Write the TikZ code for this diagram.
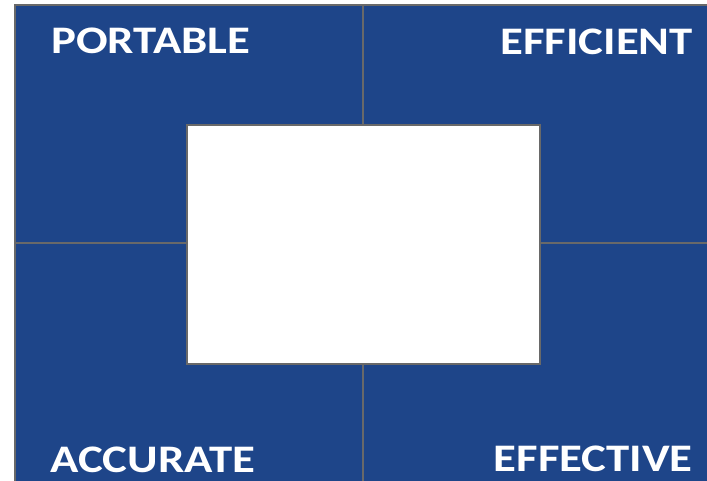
\documentclass[tikz,border=0pt]{standalone}
\usepackage{fontspec}
\setmainfont{Carlito}
\definecolor{qblue}{RGB}{30,69,137}
\definecolor{qgrey}{RGB}{105,105,105}
\usetikzlibrary{positioning}
\newcommand{\widelabel}[1]{\scalebox{1.2}[1]{#1}}
\tikzset{
  quadlabel/.style={text=white,font=\bfseries\fontsize{39}{39}\selectfont,inner sep=0pt},
  divider/.style={qgrey,line width=2pt}
}

\begin{document}
\begin{tikzpicture}[x=1pt,y=-1pt]
  \useasboundingbox (0,0) rectangle (707,481);
  % blue field and its frame
  \fill[qblue] (15,5) rectangle (707,481);
  \draw[divider] (15,490) -- (15,5) -- (720,5);
  % centre box
  \node[draw=qgrey,line width=2pt,fill=white,minimum width=353pt,minimum height=239pt,inner sep=0pt] (core) at (363.5,244.5) {};
  \coordinate (top) at (363,5);
  \coordinate (bottom) at (363,481);
  \coordinate (left) at (15,243);
  \coordinate (right) at (707,243);
  \draw[divider] (top) -- (top |- core.north);
  \draw[divider] (core.south -| bottom) -- (bottom);
  \draw[divider] (left) -- (left -| core.west);
  \draw[divider] (core.east |- right) -- (right);
  % labels
  \node[quadlabel,anchor=base west] (portable) at (51,54) {\widelabel{PORTABLE}};
  \node[quadlabel,anchor=base east] (efficient) at (693,55) {\widelabel{EFFICIENT}};
  \node[quadlabel,anchor=base west] (accurate) at (50,472) {\widelabel{ACCURATE}};
  \node[quadlabel,anchor=base east] (effective) at (693,471) {\widelabel{EFFECTIVE}};
\end{tikzpicture}
\end{document}
